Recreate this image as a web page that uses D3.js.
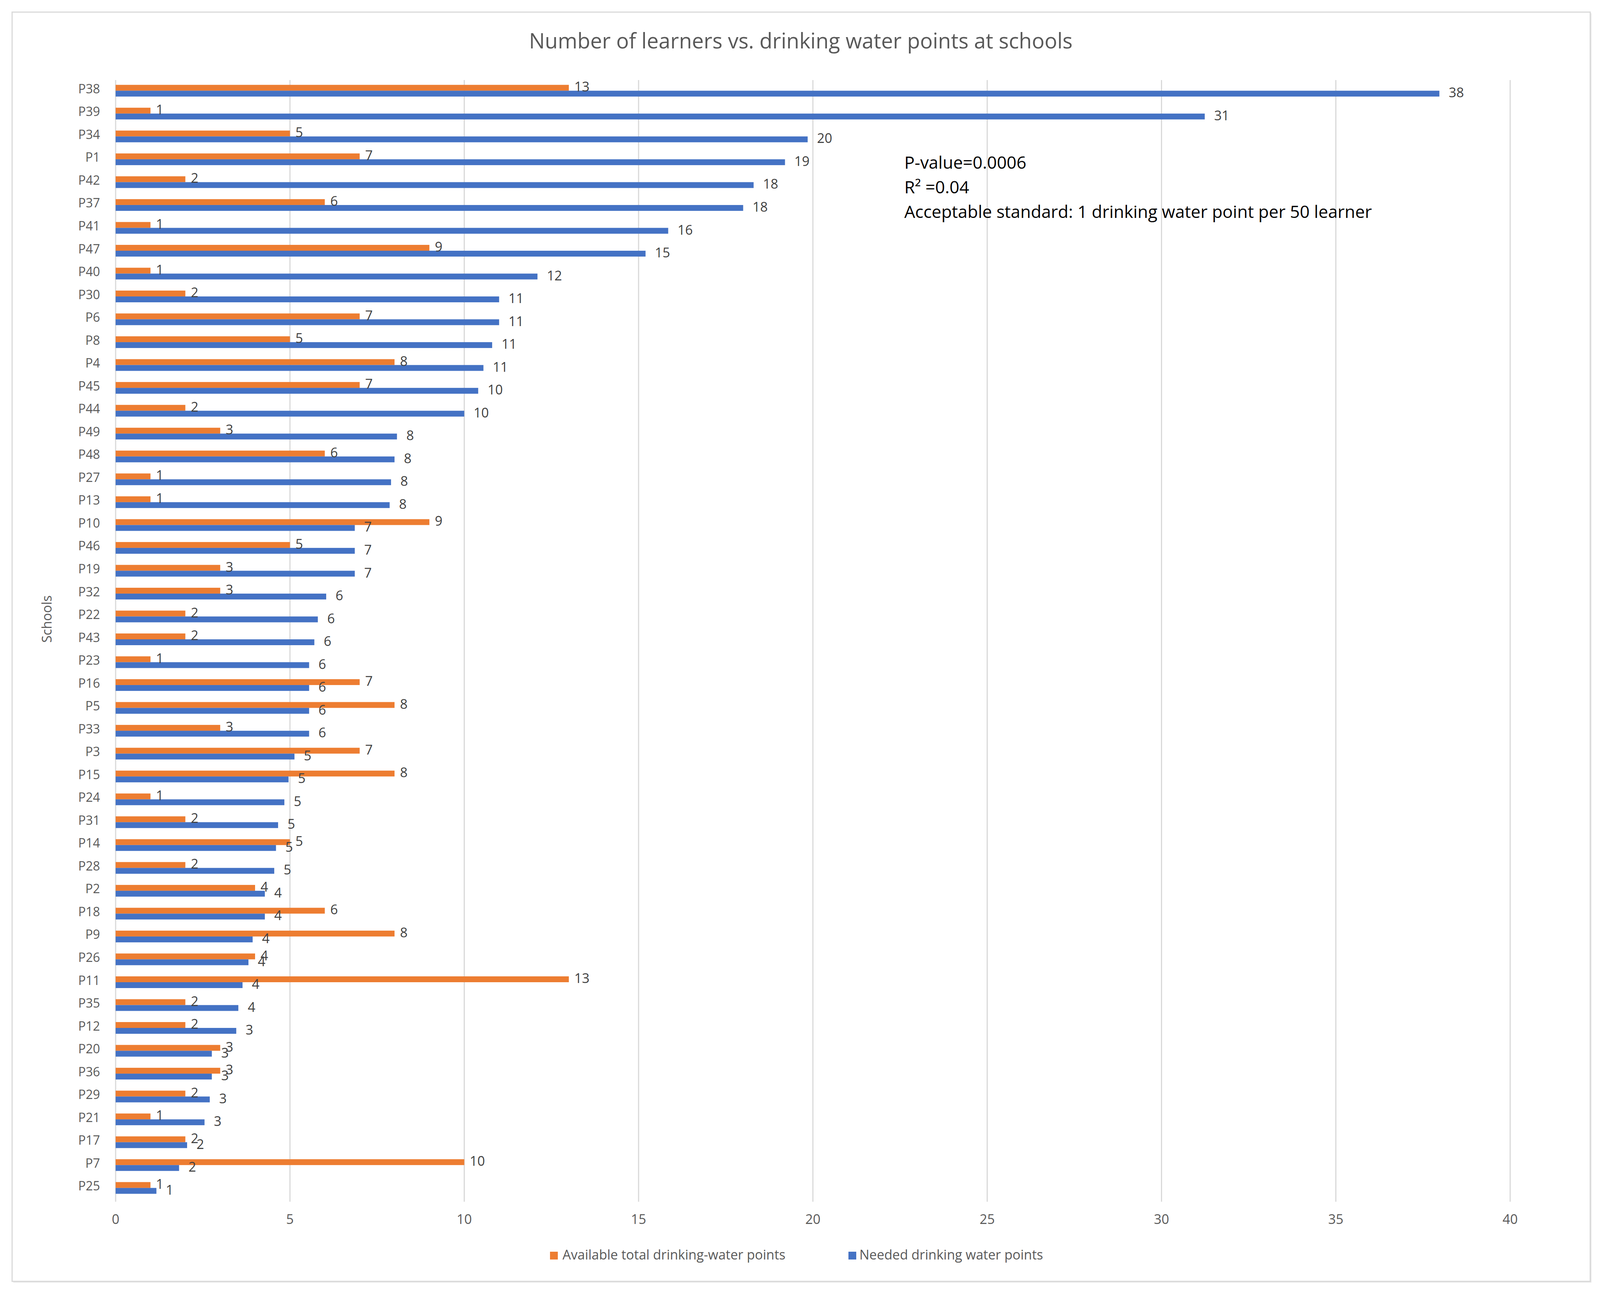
<!DOCTYPE html>
<html><head><meta charset="utf-8">
<script src="https://cdn.jsdelivr.net/npm/d3@7"></script>
<style>body{margin:0;background:#fff}</style>
</head><body>
<script>
const schools = ["P38","P39","P34","P1","P42","P37","P41","P47","P40","P30","P6","P8","P4","P45","P44","P49","P48","P27","P13","P10","P46","P19","P32","P22","P43","P23","P16","P5","P33","P3","P15","P24","P31","P14","P28","P2","P18","P9","P26","P11","P35","P12","P20","P36","P29","P21","P17","P7","P25"];
const available = [13,1,5,7,2,6,1,9,1,2,7,5,8,7,2,3,6,1,1,9,5,3,3,2,2,1,7,8,3,7,8,1,2,5,2,4,6,8,4,13,2,2,3,3,2,1,2,10,1];
const needed = [37.97,31.24,19.85,19.2,18.3,18.0,15.85,15.2,12.1,11.0,11.0,10.8,10.55,10.4,10.0,8.07,8.0,7.9,7.86,6.86,6.86,6.86,6.04,5.8,5.7,5.55,5.55,5.55,5.55,5.13,4.96,4.84,4.66,4.6,4.55,4.28,4.28,3.93,3.81,3.64,3.52,3.46,2.76,2.76,2.7,2.55,2.05,1.82,1.17];
const xTicks = [0,5,10,15,20,25,30,35,40];
const seriesNames = ["Available total drinking-water points","Needed drinking water points"];
const notes = ["P-value=0.0006","R\u00b2 =0.04","Acceptable standard: 1 drinking water point per 50 learner"];
const colors = ["#ED7D31","#4472C4"];

const W=4106,H=3321;
const font="'Open Sans', 'Liberation Sans', sans-serif";
const svg=d3.select("body").append("svg").attr("width",W).attr("height",H).style("font-family",font);
svg.append("rect").attr("x",34).attr("y",34).attr("width",4040).attr("height",3250).attr("fill","#e6e6e6");
svg.append("rect").attr("x",31).attr("y",31).attr("width",4040).attr("height",3250).attr("fill","#fff").attr("stroke","#d9d9d9").attr("stroke-width",3);

const x=d3.scaleLinear().domain([0,40]).range([296,3866]);
const y=d3.scaleBand().domain(schools).range([201,3069]);
const c=d=>y(d)+y.bandwidth()/2;

svg.append("text").attr("x",2050).attr("y",110).attr("text-anchor","middle").attr("dominant-baseline","middle")
 .attr("font-size",54).attr("fill","#595959").text("Number of learners vs. drinking water points at schools");

svg.append("g").selectAll("line").data(xTicks).join("line")
 .attr("x1",d=>x(d)).attr("x2",d=>x(d)).attr("y1",205).attr("y2",3077).attr("stroke","#d9d9d9").attr("stroke-width",3);

svg.append("g").selectAll("text").data(xTicks).join("text")
 .attr("x",d=>x(d)).attr("y",3125).attr("text-anchor","middle").attr("dominant-baseline","middle")
 .attr("font-size",34).attr("fill","#595959").text(d=>d);

svg.append("g").selectAll("text").data(schools).join("text")
 .attr("x",256).attr("y",d=>c(d)).attr("text-anchor","end").attr("dominant-baseline","middle")
 .attr("font-size",32).attr("fill","#595959").text(d=>d);

svg.append("text").attr("transform","translate(123,1585) rotate(-90)").attr("text-anchor","middle").attr("dominant-baseline","middle")
 .attr("font-size",34).attr("fill","#595959").text("Schools");

const bh=15;
svg.append("g").selectAll("rect").data(schools).join("rect")
 .attr("x",x(0)).attr("y",d=>c(d)-13).attr("height",bh).attr("width",(d,i)=>x(available[i])-x(0)).attr("fill",colors[0]);
svg.append("g").selectAll("rect").data(schools).join("rect")
 .attr("x",x(0)).attr("y",d=>c(d)+2).attr("height",bh).attr("width",(d,i)=>x(needed[i])-x(0)).attr("fill",colors[1]);

svg.append("g").selectAll("text").data(schools).join("text")
 .attr("x",(d,i)=>x(available[i])+14).attr("y",d=>c(d)-5).attr("dominant-baseline","middle")
 .attr("font-size",34).attr("fill","#404040").text((d,i)=>available[i]);
svg.append("g").selectAll("text").data(schools).join("text")
 .attr("x",(d,i)=>x(needed[i])+24).attr("y",d=>c(d)+10).attr("dominant-baseline","middle")
 .attr("font-size",34).attr("fill","#404040").text((d,i)=>Math.round(needed[i]));

svg.append("g").selectAll("text").data(notes).join("text")
 .attr("x",2315).attr("y",(d,i)=>420+i*63).attr("dominant-baseline","middle")
 .attr("font-size",44).attr("fill","#000").text(d=>d);

const lg=svg.append("g");
[[1408,1440],[2172,2200]].forEach((p,i)=>{
 lg.append("rect").attr("x",p[0]).attr("y",3205).attr("width",20).attr("height",20).attr("fill",colors[i]);
 lg.append("text").attr("x",p[1]).attr("y",3216).attr("dominant-baseline","middle").attr("font-size",34).attr("fill","#595959").text(seriesNames[i]);
});
</script>
</body></html>
